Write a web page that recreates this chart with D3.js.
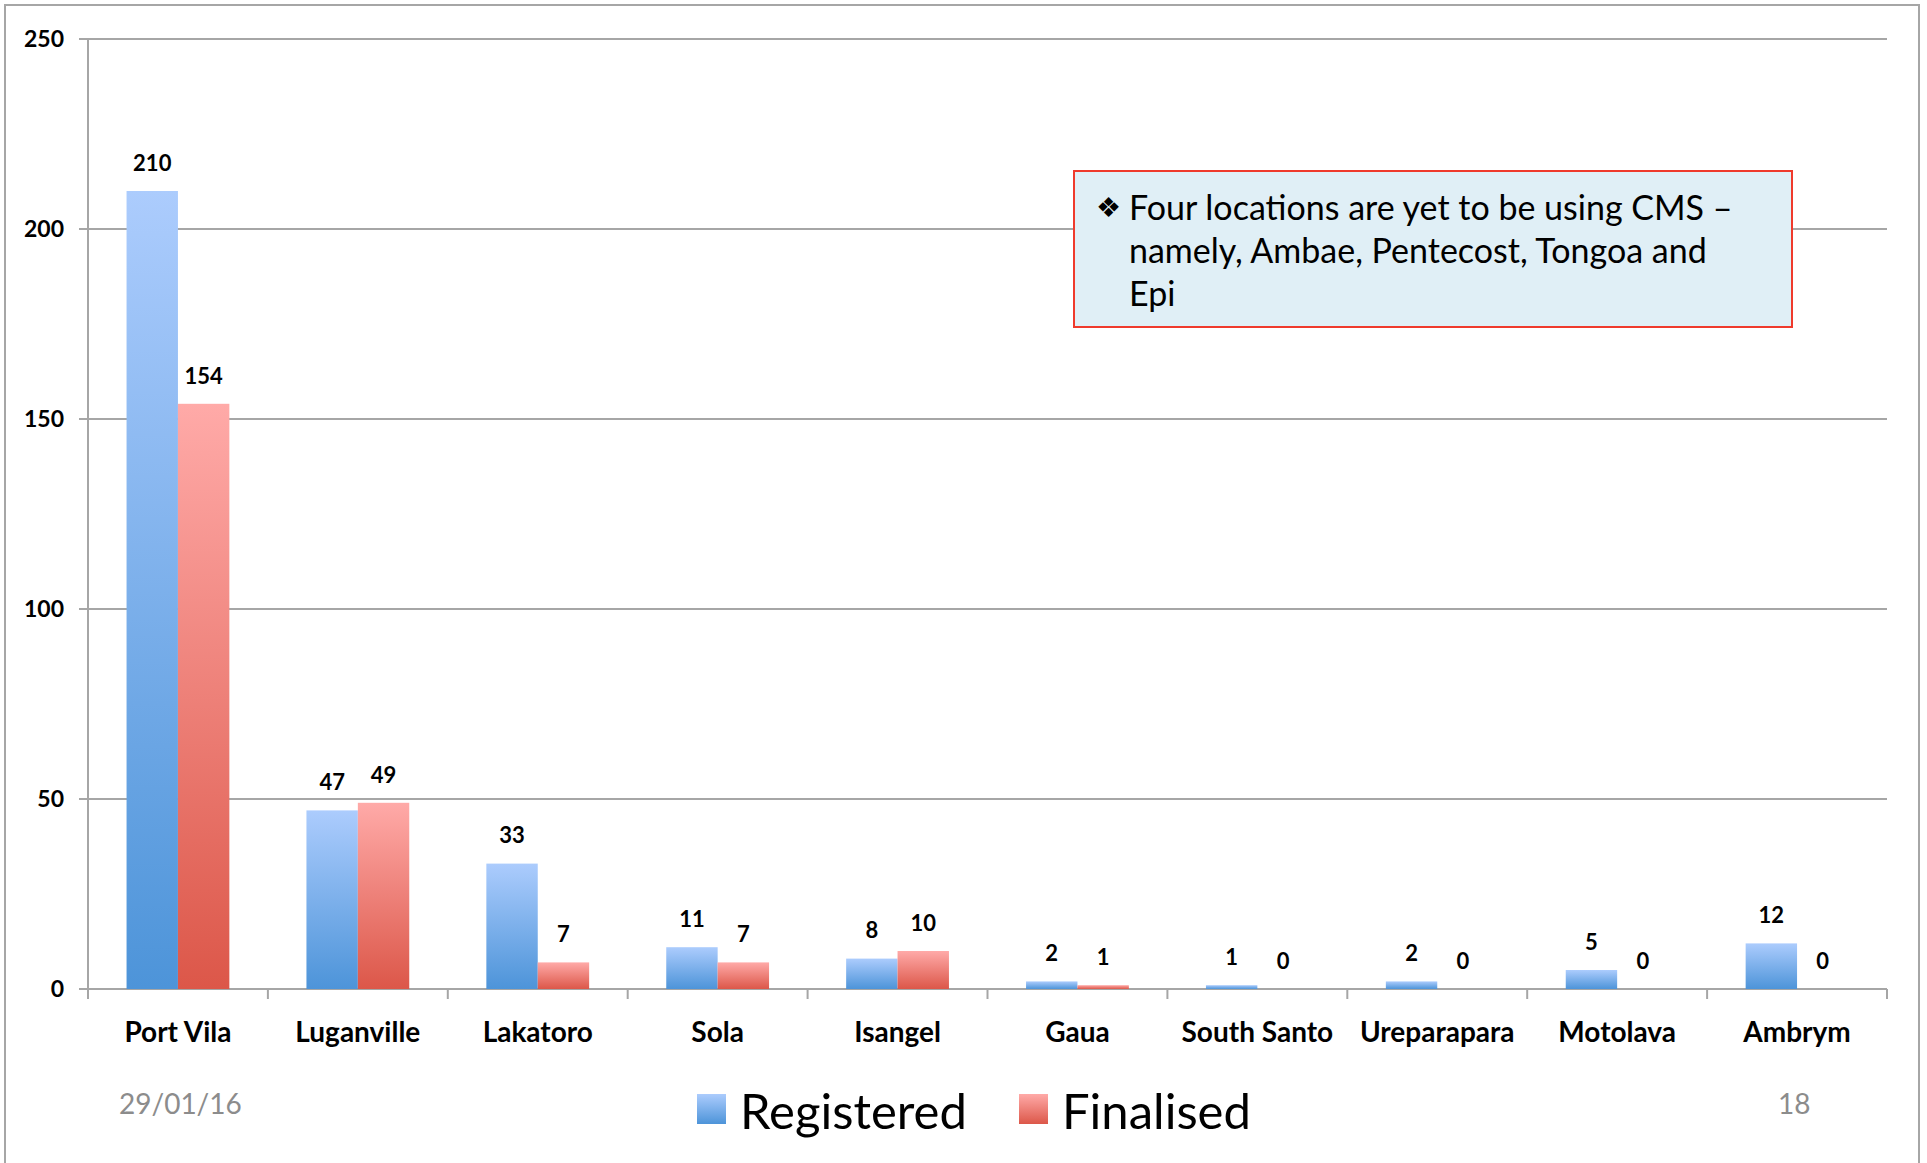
<!DOCTYPE html>
<html>
<head>
<meta charset="utf-8">
<script src="https://cdn.jsdelivr.net/npm/d3@7"></script>
<style>
  body { margin: 0; background: #fff; }
  svg { display: block; font-family: Lato, "Open Sans", sans-serif; }
</style>
</head>
<body>
<svg id="chart"></svg>
<script>
let width = 1927;
let height = 1163;

// values
let locations = ["Port Vila", "Luganville", "Lakatoro", "Sola", "Isangel", "Gaua",
    "South Santo", "Ureparapara", "Motolava", "Ambrym"];
let registered = [210, 47, 33, 11, 8, 2, 1, 2, 5, 12];
let finalised = [154, 49, 7, 7, 10, 1, 0, 0, 0, 0];
let seriesNames = ["Registered", "Finalised"];
let yTicks = [0, 50, 100, 150, 200, 250];
let noteLines = ["Four locations are yet to be using CMS \u2013",
    "namely, Ambae, Pentecost, Tongoa and", "Epi"];

let plotLeft = 88, plotRight = 1887, plotTop = 39, plotBottom = 989;

let svg = d3.select("#chart").attr("width", width).attr("height", height);

// gradients for the bars, one per series
let defs = svg.append("defs");
let gradStops = {
    Registered: ["#acccfd", "#4d94d9"],
    Finalised: ["#ffaaa8", "#dc5749"]
};
seriesNames.forEach(function (s) {
    let g = defs.append("linearGradient").attr("id", "grad" + s)
        .attr("x1", 0).attr("y1", 0).attr("x2", 0).attr("y2", 1);
    g.append("stop").attr("offset", "0%").attr("stop-color", gradStops[s][0]);
    g.append("stop").attr("offset", "100%").attr("stop-color", gradStops[s][1]);
});

// slide frame
svg.append("rect").attr("x", 5).attr("y", 5).attr("width", 1914).attr("height", 1180)
    .attr("fill", "none").attr("stroke", "#a6a6a6").attr("stroke-width", 2);

let x0 = d3.scaleBand().domain(locations).range([plotLeft, plotRight]);
let barW = x0.bandwidth() / 3.5; // excel gap width 150%
let x1 = d3.scaleBand().domain(seriesNames).range([0.75 * barW, 2.75 * barW]);
let y = d3.scaleLinear().domain([0, 250]).range([plotBottom, plotTop]);

// gridlines + y ticks
svg.append("g").selectAll("line").data(yTicks).enter().append("line")
    .attr("x1", plotLeft - 9).attr("x2", plotRight)
    .attr("y1", d => y(d)).attr("y2", d => y(d))
    .attr("stroke", "#a6a6a6").attr("stroke-width", 2);

svg.append("g").selectAll("text").data(yTicks).enter().append("text")
    .attr("x", 64).attr("y", d => y(d)).attr("dy", "0.35em")
    .attr("text-anchor", "end").attr("font-weight", "bold").attr("font-size", 23)
    .text(d => d);

// y axis line
svg.append("line").attr("x1", plotLeft).attr("x2", plotLeft)
    .attr("y1", plotTop).attr("y2", plotBottom + 10)
    .attr("stroke", "#a6a6a6").attr("stroke-width", 2);

// x axis ticks between categories
let tickXs = locations.map(d => x0(d)).concat([plotRight]);
svg.append("g").selectAll("line").data(tickXs).enter().append("line")
    .attr("x1", d => d).attr("x2", d => d)
    .attr("y1", plotBottom).attr("y2", plotBottom + 10)
    .attr("stroke", "#a6a6a6").attr("stroke-width", 2);

// bars
let rows = locations.map((loc, i) => ({
    loc: loc,
    vals: [{s: "Registered", v: registered[i]}, {s: "Finalised", v: finalised[i]}]
}));

let groups = svg.append("g").selectAll("g").data(rows).enter().append("g")
    .attr("transform", d => "translate(" + x0(d.loc) + ",0)");

groups.selectAll("rect").data(d => d.vals).enter().append("rect")
    .attr("x", d => x1(d.s)).attr("width", x1.bandwidth())
    .attr("y", d => y(d.v)).attr("height", d => y(0) - y(d.v))
    .attr("fill", d => "url(#grad" + d.s + ")");

// value labels
groups.selectAll("text").data(d => d.vals).enter().append("text")
    .attr("x", d => x1(d.s) + x1.bandwidth() / 2)
    .attr("y", d => y(d.v) - 28).attr("dy", "0.35em")
    .attr("text-anchor", "middle").attr("font-weight", "bold").attr("font-size", 22)
    .text(d => d.v);

// category labels
svg.append("g").selectAll("text").data(locations).enter().append("text")
    .attr("x", d => x0(d) + x0.bandwidth() / 2).attr("y", 1032).attr("dy", "0.35em")
    .attr("text-anchor", "middle").attr("font-weight", "bold").attr("font-size", 28)
    .text(d => d);

// note box
svg.append("rect").attr("x", 1074).attr("y", 171).attr("width", 718).attr("height", 156)
    .attr("fill", "#e0eff6").attr("stroke", "#ef3a2c").attr("stroke-width", 2);
svg.append("text").attr("x", 1096).attr("y", 207).attr("dy", "0.35em")
    .attr("font-size", 28).text("\u2756");
svg.append("g").selectAll("text").data(noteLines).enter().append("text")
    .attr("x", 1129).attr("y", (d, i) => 208 + i * 43).attr("dy", "0.35em")
    .attr("font-size", 34).text(d => d);

// legend
let legend = svg.append("g");
let legendX = {Registered: [697, 740], Finalised: [1019, 1062]};
seriesNames.forEach(function (s) {
    legend.append("rect").attr("x", legendX[s][0]).attr("y", 1094)
        .attr("width", 29).attr("height", 30).attr("fill", "url(#grad" + s + ")");
    legend.append("text").attr("x", legendX[s][1]).attr("y", 1112).attr("dy", "0.35em")
        .attr("font-size", 49).text(s);
});

// footer
svg.append("text").attr("x", 119).attr("y", 1104).attr("dy", "0.35em")
    .attr("font-size", 28).attr("fill", "#8c8c8c").text("29/01/16");
svg.append("text").attr("x", 1778).attr("y", 1104).attr("dy", "0.35em")
    .attr("font-size", 28).attr("fill", "#8c8c8c").text("18");
</script>
</body>
</html>
